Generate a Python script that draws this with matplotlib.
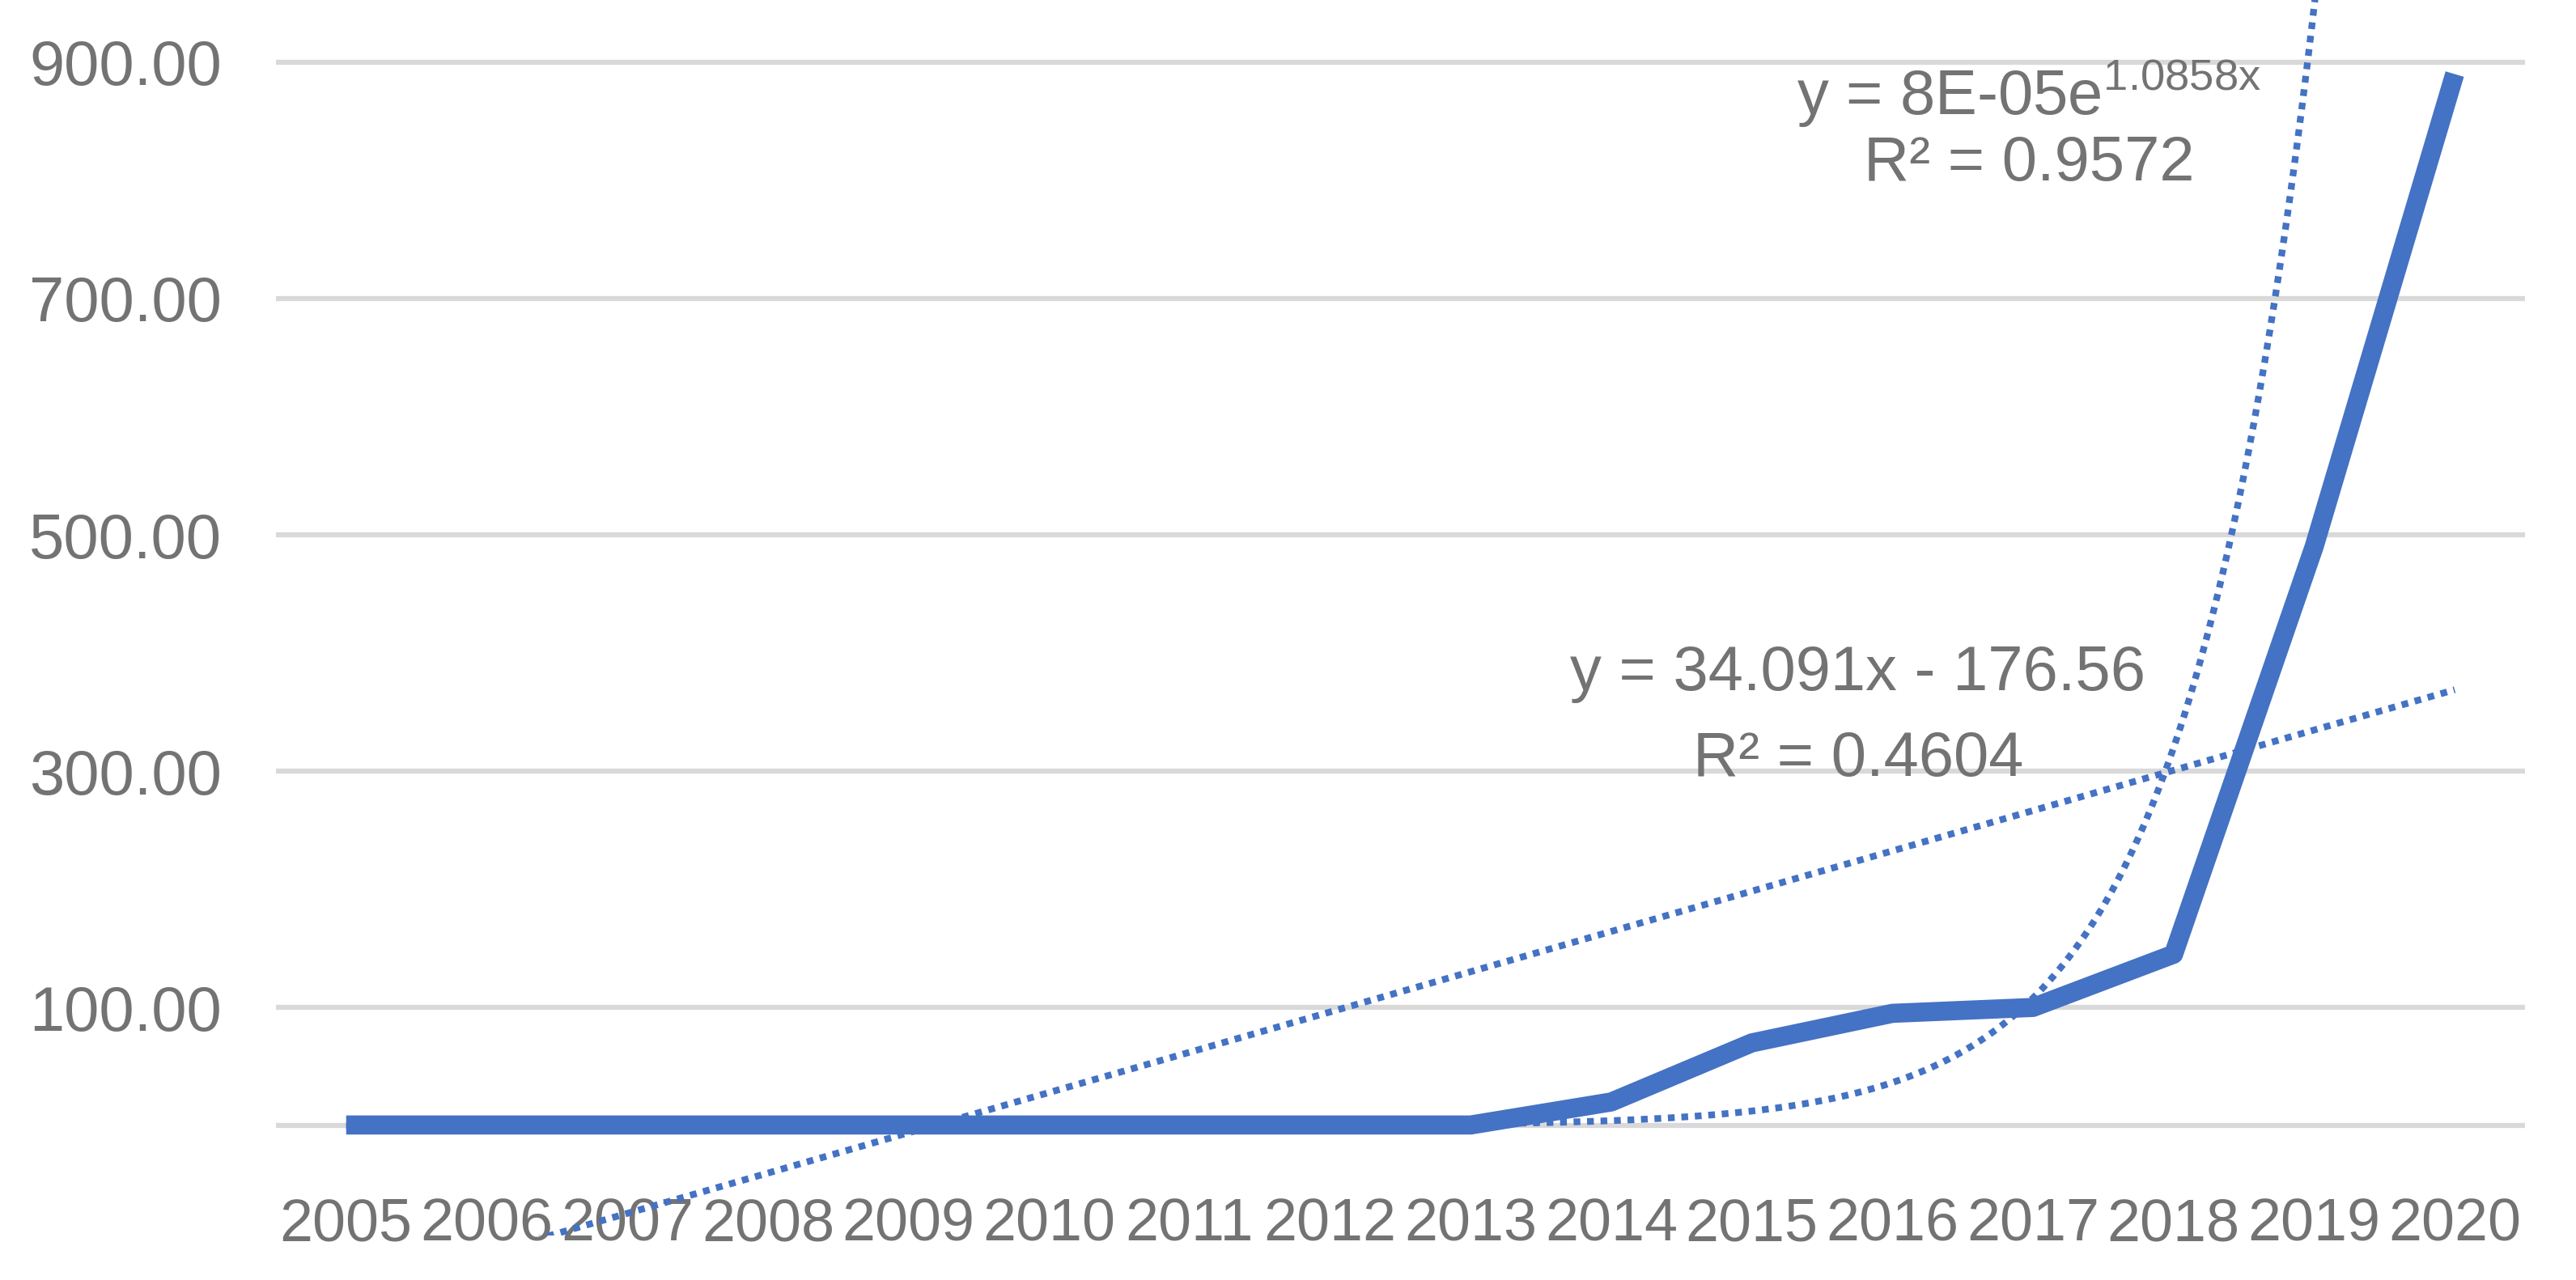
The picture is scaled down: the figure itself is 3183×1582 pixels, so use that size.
import numpy as np
import matplotlib
matplotlib.use("Agg")
import matplotlib.pyplot as plt

# ---- data ----
years = [2005, 2006, 2007, 2008, 2009, 2010, 2011, 2012, 2013,
         2014, 2015, 2016, 2017, 2018, 2019, 2020]
values = [0.5, 0.5, 0.5, 0.5, 0.5, 0.5, 0.5, 0.5, 0.5,
          20, 70, 95, 100, 145, 490, 890]
y_ticks = [100, 300, 500, 700, 900]
# trendline coefficients (as printed on the chart), x = 1..16
lin_slope, lin_icpt = 34.091, -176.56
exp_a, exp_b = 8e-05, 1.0858
lin_label = ["y = 34.091x - 176.56", "R² = 0.4604"]
exp_label = [r"y = 8E-05e$^{\mathregular{1.0858x}}$", "R² = 0.9572"]

FONT = ["Liberation Sans", "DejaVu Sans"]
plt.rcParams["font.family"] = FONT
plt.rcParams["mathtext.fontset"] = "custom"
plt.rcParams["mathtext.rm"] = "Liberation Sans"

BLUE = "#4472C4"
GRID = "#D9D9D9"
TXT = "#737373"

fig = plt.figure(figsize=(31.83, 15.82), dpi=100)
ax = fig.add_axes([0.1071, 0.0348, 0.8731, 0.9652])
ax.set_xlim(2004.5, 2020.5)
ax.set_ylim(-93, 952.7)

for s in ax.spines.values():
    s.set_visible(False)

# gridlines + category axis line
for yv in [0] + y_ticks:
    ax.axhline(yv, color=GRID, lw=4.5, zorder=1)

# trendlines
xi = np.arange(1, len(years) + 1)
xd = np.linspace(xi[0], xi[-1], 800)
yrs_d = years[0] - 1 + xd
ax.plot(yrs_d, lin_slope * xd + lin_icpt, color=BLUE, lw=6,
        linestyle=(0, (1, 1)), dash_capstyle="butt", zorder=3)
ax.plot(yrs_d, exp_a * np.exp(exp_b * xd), color=BLUE, lw=6,
        linestyle=(0, (1, 1)), dash_capstyle="butt", zorder=3)

# main series
ax.plot(years, values, color=BLUE, lw=17, solid_joinstyle="round",
        solid_capstyle="butt", zorder=4)

ax.set_yticks(y_ticks)
ax.set_yticklabels([f"{v:.2f}" for v in y_ticks])
ax.set_xticks(years)
ax.set_xticklabels([str(y) for y in years])
ax.tick_params(axis="y", length=0, pad=48, labelsize=56, labelcolor=TXT)
ax.tick_params(axis="x", length=0, pad=-9, labelsize=53, labelcolor=TXT)
for lab in ax.get_xticklabels():
    lab.set_va("center")

# trendline labels
fig.text(0.7876, 0.927, exp_label[0], ha="center", va="center",
         fontsize=56, color=TXT)
fig.text(0.7876, 0.872, exp_label[1], ha="center", va="center",
         fontsize=56, color=TXT)
fig.text(0.7213, 0.474, lin_label[0], ha="center", va="center",
         fontsize=56, color=TXT)
fig.text(0.7213, 0.407, lin_label[1], ha="center", va="center",
         fontsize=56, color=TXT)

fig.savefig("out.png", dpi=100, facecolor="white")
